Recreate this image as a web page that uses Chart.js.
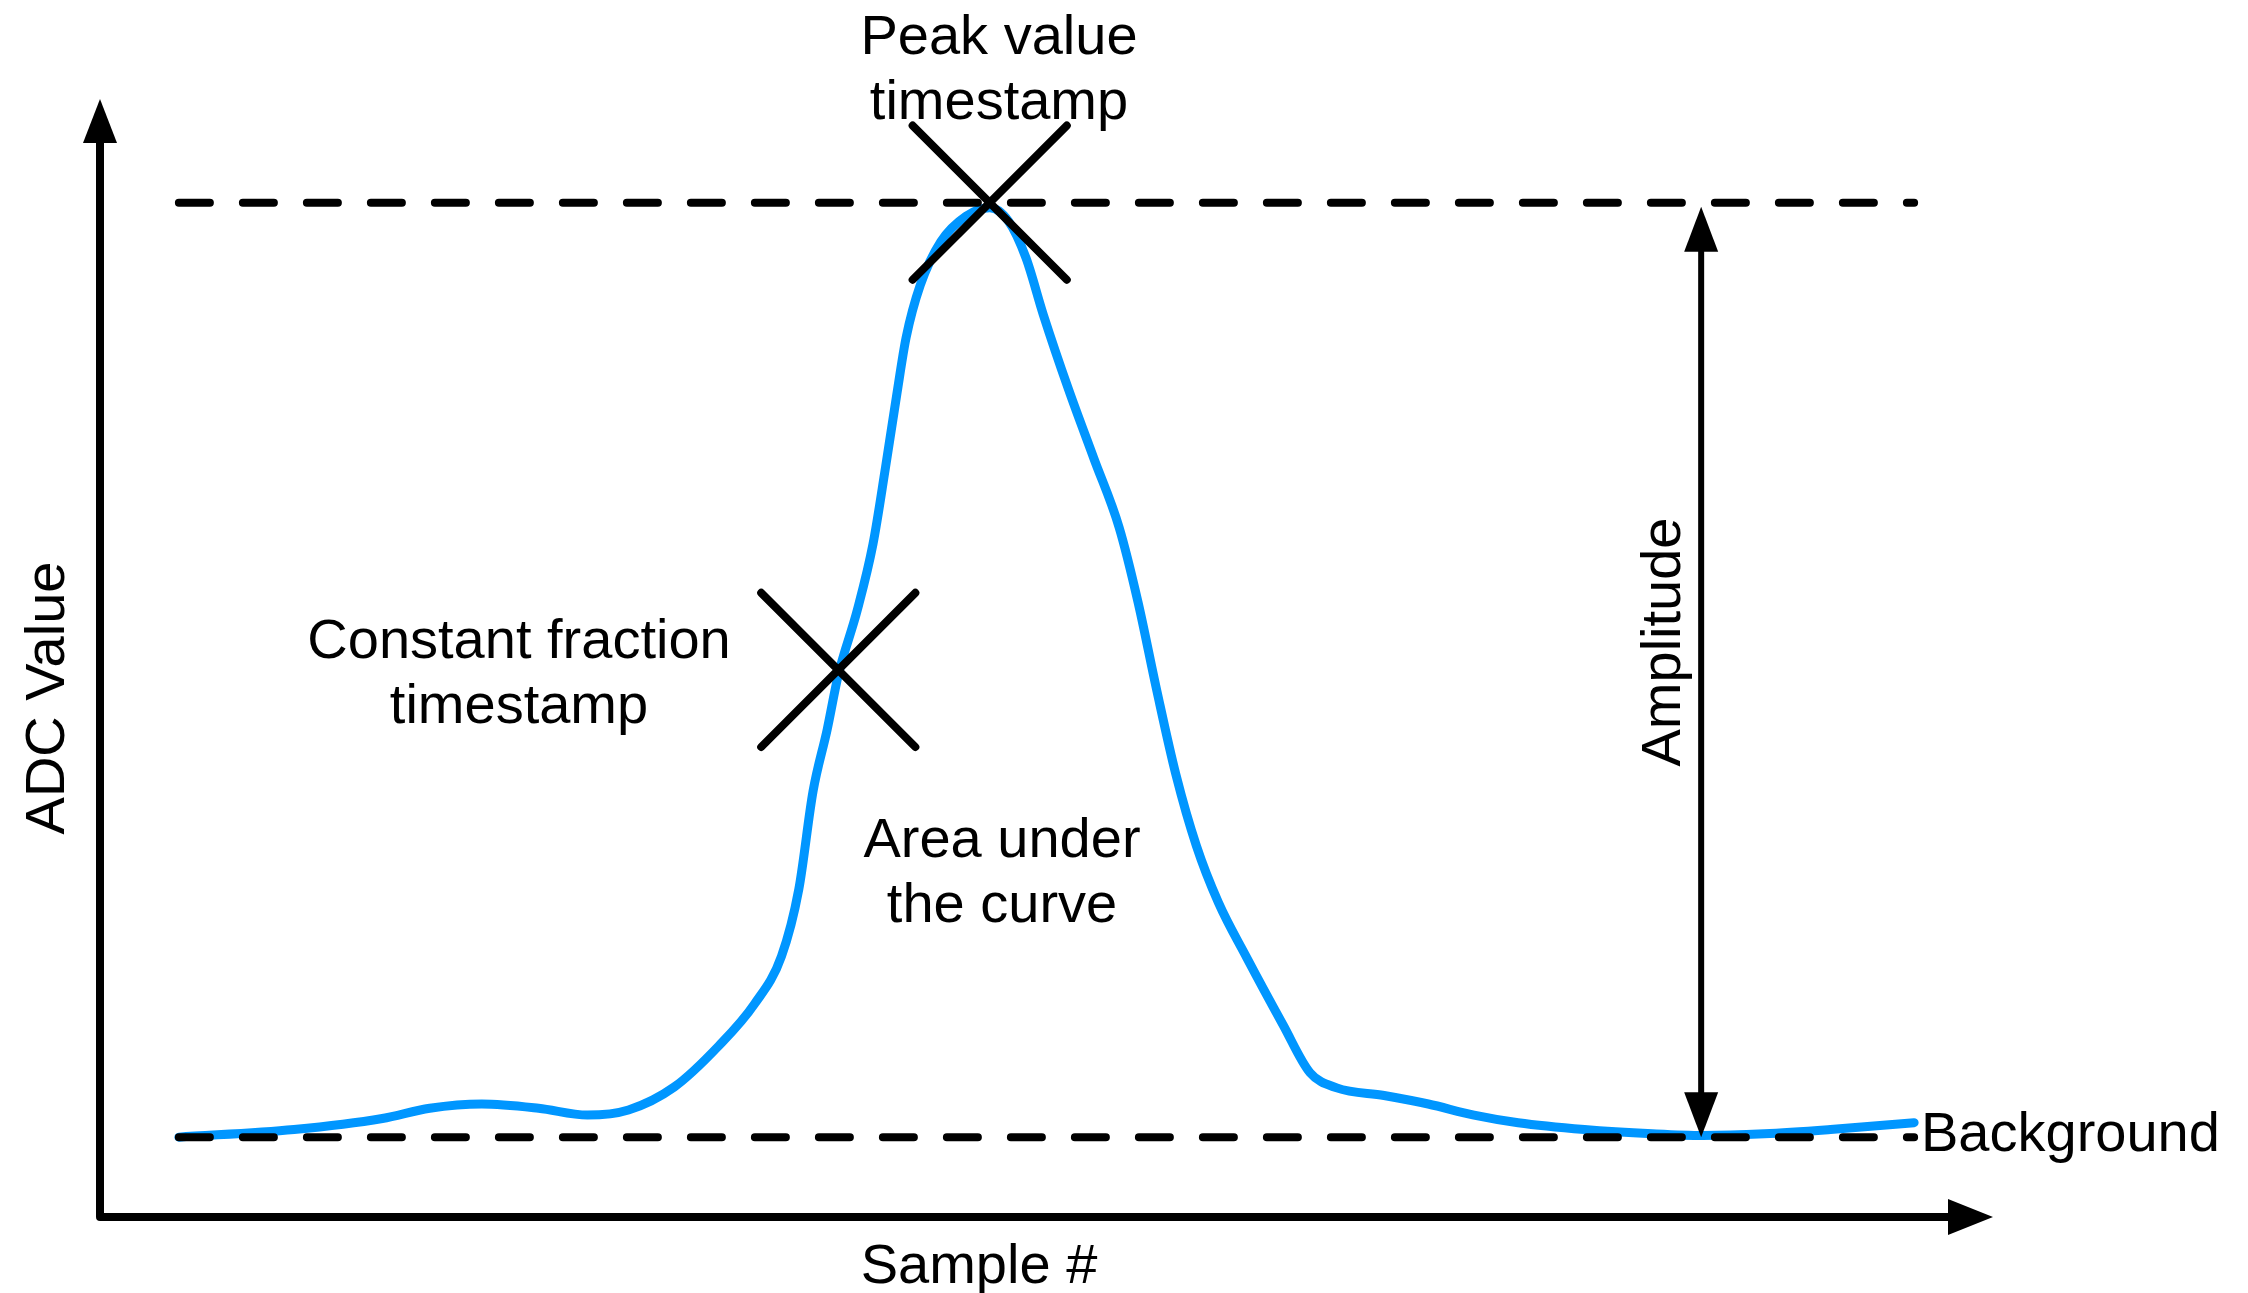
<!DOCTYPE html>
<html>
<head>
<meta charset="utf-8">
<title>ADC pulse</title>
<script src="https://cdn.jsdelivr.net/npm/chart.js@4/dist/chart.umd.min.js"></script>
<style>
  html, body { margin: 0; padding: 0; background: #fff; }
</style>
</head>
<body>
<canvas id="chart" width="2248" height="1293"></canvas>
<script>
'use strict'

// pulse trace (sample #, ADC counts)
const sampleNo = [
  0, 7.3, 12.9, 15.9, 19.2, 22.8, 25.9, 28.5, 31.4, 34.2,
  36.5, 38.2, 39.3, 40.2, 41.1, 41.8, 43.0, 44.0, 44.8, 45.5,
  46.1, 47.0, 48.3, 49.9, 51.4, 52.6, 53.7, 54.8, 56.4, 58.0,
  59.6, 60.8, 62.0, 63.2, 64.5, 65.9, 67.7, 70.0, 71.7, 73.4,
  76.4, 79.2, 82.1, 84.9, 89.1, 93.4, 96.6, 100.5, 104.7, 110.0
]
const adcValue = [
  100, 109, 122, 134, 139, 134, 126, 132, 159, 207,
  257, 313, 392, 507, 580, 644, 720, 798, 889, 973,
  1041, 1103, 1154, 1184, 1194, 1178, 1135, 1068, 980, 899,
  818, 730, 625, 527, 443, 376, 311, 232, 176, 158,
  149, 139, 126, 117, 109, 104, 102, 104, 109, 117
]

const traceRange = [0, 110]
const baselineLevel = 100
const peakLevel = 1200
const cfLevel = 650 // 50 % constant fraction
const peakSample = 51.4
const cfSample = 41.8
const amplitudeSample = 96.5

const xTitle = 'Sample #'
const yTitle = 'ADC Value'
const peakLabel = ['Peak value', 'timestamp']
const cfLabel = ['Constant fraction', 'timestamp']
const areaLabel = ['Area under', 'the curve']
const amplitudeLabel = 'Amplitude'
const backgroundLabel = 'Background'

const FONT = '56px Helvetica, Arial, "Liberation Sans", sans-serif'
const BLUE = '#0096ff'

function arrowHead(ctx, x, y, dx, dy, len, half) {
  const bx = x - dx * len
  const by = y - dy * len
  ctx.beginPath()
  ctx.moveTo(x, y)
  ctx.lineTo(bx - dy * half, by + dx * half)
  ctx.lineTo(bx + dy * half, by - dx * half)
  ctx.closePath()
  ctx.fill()
}

const sketch = {
  id: 'sketch',

  beforeDatasetDraw: (chart, args) => {
    if (chart.data.datasets[args.index].roundCaps) {
      chart.ctx.save()
      chart.ctx.lineCap = 'round'
    }
  },

  afterDatasetDraw: (chart, args) => {
    if (chart.data.datasets[args.index].roundCaps)
      chart.ctx.restore()
  },

  beforeDatasetsDraw: chart => {
    const { ctx, chartArea: a } = chart

    ctx.save()
    ctx.strokeStyle = '#000'
    ctx.fillStyle = '#000'
    ctx.lineWidth = 8
    ctx.lineJoin = 'round'

    ctx.beginPath()
    ctx.moveTo(a.left, a.top + 40)
    ctx.lineTo(a.left, a.bottom)
    ctx.lineTo(a.right - 40, a.bottom)
    ctx.stroke()

    arrowHead(ctx, a.left, a.top, 0, -1, 44, 17)
    arrowHead(ctx, a.right, a.bottom, 1, 0, 45, 18)
    ctx.restore()
  },

  afterDatasetsDraw: chart => {
    const { ctx, scales: { x, y } } = chart

    ctx.save()
    ctx.strokeStyle = '#000'
    ctx.fillStyle = '#000'

    // amplitude arrow between background and peak level
    const ax = x.getPixelForValue(amplitudeSample)
    const top = y.getPixelForValue(peakLevel) + 4
    const bot = y.getPixelForValue(baselineLevel)
    ctx.lineWidth = 6
    ctx.beginPath()
    ctx.moveTo(ax, top + 40)
    ctx.lineTo(ax, bot - 40)
    ctx.stroke()
    arrowHead(ctx, ax, top, 0, -1, 45, 17)
    arrowHead(ctx, ax, bot, 0, 1, 45, 17)

    ctx.font = FONT
    ctx.textBaseline = 'alphabetic'
    ctx.textAlign = 'center'

    const block = (lines, cx, by) => lines.forEach((t, i) => ctx.fillText(t, cx, by + i * 65))
    block(peakLabel, 999, 54)
    block(cfLabel, 519, 658)
    block(areaLabel, 1002, 857)
    ctx.fillText(xTitle, 979, 1283)

    ctx.textAlign = 'left'
    ctx.fillText(backgroundLabel, 1921, 1151)

    ctx.textAlign = 'center'
    ctx.save()
    ctx.translate(64, 698)
    ctx.rotate(-Math.PI / 2)
    ctx.fillText(yTitle, 0, 0)
    ctx.restore()

    ctx.save()
    ctx.translate(1680, 642)
    ctx.rotate(-Math.PI / 2)
    ctx.fillText(amplitudeLabel, 0, 0)
    ctx.restore()

    ctx.restore()
  }
}

const levelLine = level => ({
  data: traceRange.map(s => ({ x: s, y: level })),
  borderColor: '#000',
  borderWidth: 8,
  borderDash: [31, 33],
  borderCapStyle: 'round',
  pointRadius: 0,
  order: 2
})

const plotter = {
  chart: null,

  create: function() {
    const ctx = document.getElementById('chart').getContext('2d')

    this.chart = new Chart(ctx, {
      type: 'line',

      data: {
        datasets: [
          {
            label: 'pulse',
            data: sampleNo.map((s, i) => ({ x: s, y: adcValue[i] })),
            borderColor: BLUE,
            borderWidth: 9,
            borderCapStyle: 'round',
            borderJoinStyle: 'round',
            cubicInterpolationMode: 'monotone',
            pointRadius: 0,
            order: 3
          },
          levelLine(peakLevel),
          levelLine(baselineLevel),
          {
            label: 'timestamps',
            data: [
              { x: peakSample, y: peakLevel },
              { x: cfSample, y: cfLevel }
            ],
            showLine: false,
            pointStyle: 'crossRot',
            pointRadius: 109,
            pointBorderWidth: 8,
            pointBorderColor: '#000',
            pointBackgroundColor: '#000',
            roundCaps: true,
            clip: false,
            order: 1
          }
        ]
      },

      options: {
        responsive: false,
        animation: false,
        events: [],

        layout: {
          autoPadding: false,
          padding: { left: 100, right: 255, top: 99, bottom: 76 }
        },

        scales: {
          x: { type: 'linear', min: -5, max: 115, display: false },
          y: { type: 'linear', min: 6, max: 1322, display: false }
        },

        plugins: {
          legend: { display: false },
          tooltip: { enabled: false }
        }
      },

      plugins: [sketch]
    })

    return this
  }
}

plotter.create()
</script>
</body>
</html>
